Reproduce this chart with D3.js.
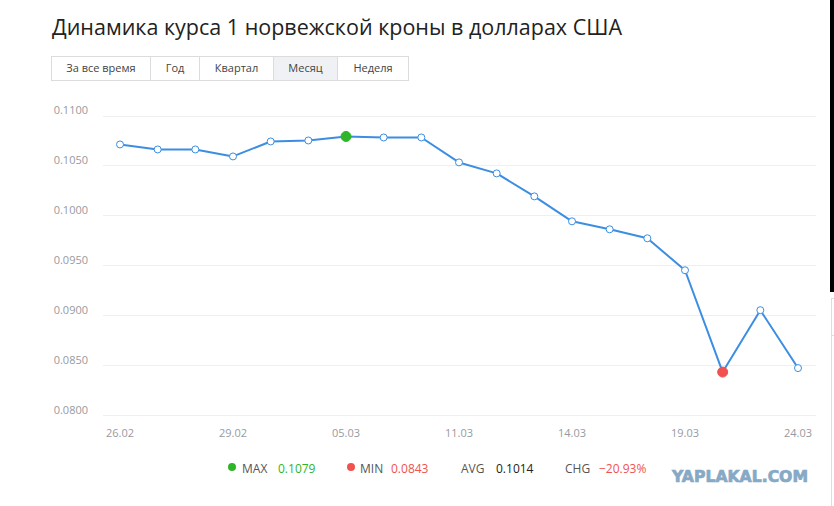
<!DOCTYPE html>
<html>
<head>
<meta charset="utf-8">
<script src="https://cdn.jsdelivr.net/npm/d3@7"></script>
<style>
  body { margin: 0; background: #fff; }
  svg { display: block; font-family: "Open Sans", "Noto Sans", sans-serif; }
</style>
</head>
<body>
<svg id="chart" width="834" height="506"></svg>
<script>
const dates = ["26.02", "27.02", "28.02", "29.02", "02.03", "04.03", "05.03", "06.03", "10.03",
               "11.03", "12.03", "13.03", "14.03", "17.03", "18.03", "19.03", "20.03", "21.03", "24.03"];
const rates = [0.1071, 0.1066, 0.1066, 0.1059, 0.1074, 0.1075, 0.1079, 0.1078, 0.1078,
               0.1053, 0.1042, 0.1019, 0.0994, 0.0986, 0.0977, 0.0945, 0.0843, 0.0905, 0.0847];
const xTickLabels = ["26.02", "29.02", "05.03", "11.03", "14.03", "19.03", "24.03"];
const yTicks = [0.08, 0.085, 0.09, 0.095, 0.10, 0.105, 0.11];
const periods = ["За все время", "Год", "Квартал", "Месяц", "Неделя"];
const periodWidths = [99, 49, 74, 64, 71];
const selectedPeriod = "Месяц";
const statNames = ["MAX", "MIN", "AVG", "CHG"];
const statValues = ["0.1079", "0.0843", "0.1014", "\u221220.93%"];

const svg = d3.select("#chart");

const lineColor = "#3b8ee2";
const green = "#2fb52a";
const red = "#f0524f";

// title
svg.append("text")
    .attr("x", 52)
    .attr("y", 35)
    .attr("font-size", "22px")
    .attr("textLength", 570)
    .attr("lengthAdjust", "spacingAndGlyphs")
    .attr("fill", "#222")
    .text("Динамика курса 1 норвежской кроны в долларах США");

// period buttons
let bx = 51;
periods.forEach((p, i) => {
    const w = periodWidths[i];
    const g = svg.append("g").attr("transform", `translate(${bx}, 56)`);
    g.append("rect")
        .attr("x", 0.5).attr("y", 0.5)
        .attr("width", w).attr("height", 24)
        .attr("fill", p === selectedPeriod ? "#f0f1f5" : "#fff")
        .attr("stroke", "#dcdcdc");
    g.append("text")
        .attr("x", w / 2 + 0.5)
        .attr("y", 12.5)
        .attr("dy", "0.35em")
        .attr("text-anchor", "middle")
        .attr("font-size", "11px")
        .attr("fill", "#444")
        .text(p);
    bx += w;
});

const x = d3.scalePoint().domain(dates).range([120, 798]);
const y = d3.scaleLinear().domain([0.08, 0.11]).range([415, 115.5]);

// grid + y labels
const yAxis = svg.append("g");
yAxis.selectAll("line")
    .data(yTicks)
    .enter().append("line")
        .attr("x1", 103).attr("x2", 816)
        .attr("y1", d => Math.round(y(d)) + 0.5)
        .attr("y2", d => Math.round(y(d)) + 0.5)
        .attr("stroke", "#efefef");
yAxis.selectAll("text")
    .data(yTicks)
    .enter().append("text")
        .attr("x", 88)
        .attr("y", d => y(d) - 5)
        .attr("dy", "0.35em")
        .attr("text-anchor", "end")
        .attr("font-size", "11px")
        .attr("fill", "#979aa0")
        .text(d => d3.format(".4f")(d));

// x labels
svg.append("g").selectAll("text")
    .data(xTickLabels)
    .enter().append("text")
        .attr("x", d => x(d))
        .attr("y", 433)
        .attr("dy", "0.35em")
        .attr("text-anchor", "middle")
        .attr("font-size", "11px")
        .attr("fill", "#979aa0")
        .text(d => d);

const pts = dates.map((d, i) => ({ date: d, value: rates[i] }));
const maxV = d3.max(rates);
const minV = d3.min(rates);

svg.append("path")
    .datum(pts)
    .attr("fill", "none")
    .attr("stroke", lineColor)
    .attr("stroke-width", 2)
    .attr("stroke-linejoin", "round")
    .attr("d", d3.line().x(d => x(d.date)).y(d => y(d.value)));

svg.append("g").selectAll("circle")
    .data(pts)
    .enter().append("circle")
        .attr("cx", d => x(d.date))
        .attr("cy", d => y(d.value))
        .attr("r", d => (d.value === maxV || d.value === minV) ? 5 : 3.5)
        .attr("fill", d => d.value === maxV ? green : d.value === minV ? red : "#fff")
        .attr("stroke", d => d.value === maxV ? green : d.value === minV ? red : lineColor)
        .attr("stroke-width", 1);

// stats legend
const statX = [242, 360, 461, 565];
const valX = [278, 391, 496, 599];
const valColors = [green, red, "#222", red];
const legend = svg.append("g");
legend.append("circle").attr("cx", 232).attr("cy", 467).attr("r", 4).attr("fill", green);
legend.append("circle").attr("cx", 351).attr("cy", 467).attr("r", 4).attr("fill", red);
statNames.forEach((s, i) => {
    legend.append("text")
        .attr("x", statX[i]).attr("y", 469)
        .attr("dy", "0.35em")
        .attr("font-size", "12px")
        .attr("fill", "#555")
        .text(s);
    legend.append("text")
        .attr("x", valX[i]).attr("y", 469)
        .attr("dy", "0.35em")
        .attr("font-size", "12px")
        .attr("fill", valColors[i])
        .text(statValues[i]);
});

// watermark
svg.append("text")
    .attr("x", 672)
    .attr("y", 482)
    .attr("font-family", "DejaVu Sans")
    .attr("font-weight", "bold")
    .attr("font-size", "15px")
    .attr("textLength", 136)
    .attr("lengthAdjust", "spacingAndGlyphs")
    .attr("fill", "#86a9c6")
    .attr("stroke", "#86a9c6")
    .attr("stroke-width", 0.7)
    .text("YAPLAKAL.COM");

// right-hand edge of the screenshot
svg.append("rect").attr("x", 830).attr("y", 0).attr("width", 4).attr("height", 292).attr("fill", "#000");
svg.append("line").attr("x1", 831.5).attr("x2", 831.5).attr("y1", 298).attr("y2", 506).attr("stroke", "#ddd");
svg.append("line").attr("x1", 831).attr("x2", 834).attr("y1", 298.5).attr("y2", 298.5).attr("stroke", "#ddd");
svg.append("line").attr("x1", 831).attr("x2", 834).attr("y1", 335.5).attr("y2", 335.5).attr("stroke", "#ddd");
</script>
</body>
</html>
